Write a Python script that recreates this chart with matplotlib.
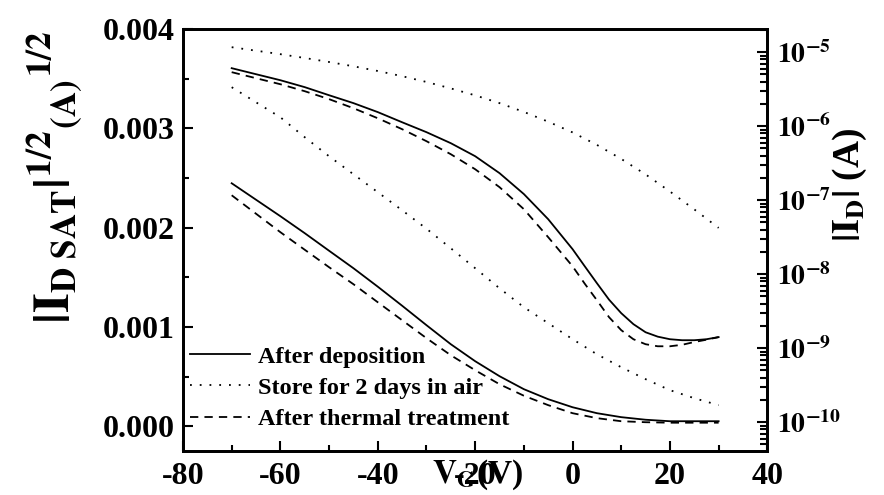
import numpy as np
import matplotlib
matplotlib.use("Agg")
import matplotlib.pyplot as plt
from matplotlib.ticker import MultipleLocator, LogLocator, FuncFormatter, NullFormatter

plt.rcParams['font.family'] = ['Liberation Serif', 'DejaVu Serif']
plt.rcParams['font.weight'] = 'bold'
plt.rcParams['mathtext.fontset'] = 'stix'
plt.rcParams['mathtext.default'] = 'bf'
plt.rcParams['axes.unicode_minus'] = False

# gate voltage (V)
vg = [-70, -65, -60, -55, -50, -45, -40, -35, -30, -25, -20,
      -15, -10, -5, 0, 5, 10, 15, 20, 25, 30]
# finer steps near the off-state knee of the log curves
vg_log = [-70, -65, -60, -55, -50, -45, -40, -35, -30, -25, -20, -15, -10, -5,
          0, 2.5, 5, 7.5, 10, 12.5, 15, 17.5, 20, 22.5, 25, 27.5, 30]

# |I_D SAT|^1/2 (A^1/2), left axis
sqrt_dep = [0.002448, 0.002282, 0.002116, 0.001945, 0.001768, 0.001592, 0.001406,
            0.001214, 0.001018, 0.000826, 0.000655, 0.000504, 0.000373, 0.000272,
            0.000191, 0.000131, 0.000091, 0.000065, 0.000050, 0.000050, 0.000050]
sqrt_air = [0.003416, 0.003264, 0.003113, 0.002912, 0.002720, 0.002539, 0.002358,
            0.002176, 0.001990, 0.001793, 0.001592, 0.001390, 0.001199, 0.001038,
            0.000877, 0.000725, 0.000594, 0.000474, 0.000363, 0.000282, 0.000212]
sqrt_heat = [0.002327, 0.002141, 0.001955, 0.001778, 0.001602, 0.001431, 0.001249,
             0.001068, 0.000887, 0.000715, 0.000564, 0.000423, 0.000307, 0.000212,
             0.000131, 0.000081, 0.000050, 0.000040, 0.000035, 0.000035, 0.000035]

# |I_D| (A), right axis (log)
id_dep = [6.08e-6, 5.04e-6, 4.18e-6, 3.37e-6, 2.62e-6, 2.05e-6, 1.55e-6, 1.13e-6,
          8.30e-7, 5.89e-7, 3.93e-7, 2.32e-7, 1.21e-7, 5.53e-8,
          2.18e-8, 1.28e-8, 7.56e-9, 4.52e-9, 2.97e-9, 2.11e-9, 1.64e-9, 1.43e-9,
          1.32e-9, 1.28e-9, 1.28e-9, 1.32e-9, 1.41e-9]
id_air = [1.168e-5, 1.048e-5, 9.40e-6, 8.35e-6, 7.37e-6, 6.45e-6, 5.57e-6, 4.74e-6,
          3.96e-6, 3.24e-6, 2.61e-6, 2.05e-6, 1.56e-6, 1.15e-6, 8.24e-7, 5.59e-7,
          3.61e-7, 2.23e-7, 1.31e-7, 7.51e-8, 4.22e-8]
id_heat = [5.37e-6, 4.45e-6, 3.69e-6, 2.97e-6, 2.32e-6, 1.75e-6, 1.28e-6, 9.11e-7,
           6.27e-7, 4.18e-7, 2.62e-7, 1.50e-7, 7.56e-8, 3.16e-8,
           1.28e-8, 7.44e-9, 4.45e-9, 2.62e-9, 1.75e-9, 1.32e-9, 1.13e-9, 1.06e-9,
           1.06e-9, 1.11e-9, 1.21e-9, 1.30e-9, 1.41e-9]

labels = ['After deposition', 'Store for 2 days in air', 'After thermal treatment']

lw = 1.3
solid = '-'
dotted = (0, (1.0, 4.4))
dashed = (0, (4.6, 3.4))

fig = plt.figure(figsize=(8.84, 4.95), dpi=100)
ax = fig.add_axes([0.207, 0.0889, 0.661, 0.852])
ax2 = ax.twinx()

ax.plot(vg, sqrt_dep, color='black', lw=lw, ls=solid, label=labels[0])
ax.plot(vg, sqrt_air, color='black', lw=lw, ls=dotted, label=labels[1])
ax.plot(vg, sqrt_heat, color='black', lw=lw, ls=dashed, label=labels[2])

ax2.plot(vg_log, id_dep, color='black', lw=lw, ls=solid)
ax2.plot(vg, id_air, color='black', lw=lw, ls=dotted)
ax2.plot(vg_log, id_heat, color='black', lw=lw, ls=dashed)

ax.set_xlim(-80, 40)
ax.set_ylim(-0.00025, 0.004)
ax2.set_yscale('log')
ax2.set_ylim(10**-10.39, 10**-4.69)

ax.xaxis.set_major_locator(MultipleLocator(20))
ax.xaxis.set_minor_locator(MultipleLocator(10))
ax.yaxis.set_major_locator(MultipleLocator(0.001))
ax.yaxis.set_minor_locator(MultipleLocator(0.0005))
ax.yaxis.set_major_formatter(FuncFormatter(lambda v, p: '%.3f' % v))
ax.xaxis.set_major_formatter(FuncFormatter(lambda v, p: '%d' % v))

ax2.yaxis.set_major_locator(LogLocator(base=10, numticks=20))
ax2.yaxis.set_minor_locator(LogLocator(base=10, subs=np.arange(2, 10), numticks=20))
ax2.yaxis.set_minor_formatter(NullFormatter())
ax2.yaxis.set_major_formatter(FuncFormatter(lambda v, p: r'$\mathbf{10^{%d}}$' % round(np.log10(v))))

for a in (ax, ax2):
    for s in a.spines.values():
        s.set_linewidth(2.0)

ax.tick_params(axis='both', which='both', direction='in', top=False, right=False,
               width=1.5, labelsize=23)
ax.tick_params(axis='both', which='major', length=7, pad=6)
ax.tick_params(axis='both', which='minor', length=4)
ax.tick_params(axis='x', pad=8)
ax2.tick_params(axis='y', which='both', direction='in', width=1.5, labelsize=20, pad=7)
ax2.tick_params(axis='y', which='major', length=7)
ax2.tick_params(axis='y', which='minor', length=5)

fig.text(0.062, 0.642, r'$|I_{D\ SAT}|^{1/2}{}_{(A)}{}^{1/2}$', rotation=90,
         ha='center', va='center', fontsize=36)
fig.text(0.9615, 0.626, r'$|I_{D}|$ (A)', rotation=90,
         ha='center', va='center', fontsize=27)
fig.text(0.54, 0.075, r'$V_{G}$(V)', ha='center', va='top', fontsize=24)

leg = ax.legend(loc='lower left', bbox_to_anchor=(0.007, 0.044), frameon=False,
                fontsize=17.5, handlelength=2.5, handletextpad=0.3,
                labelspacing=0.38, borderaxespad=0.0, borderpad=0.1)

fig.savefig('out.png', dpi=100)
